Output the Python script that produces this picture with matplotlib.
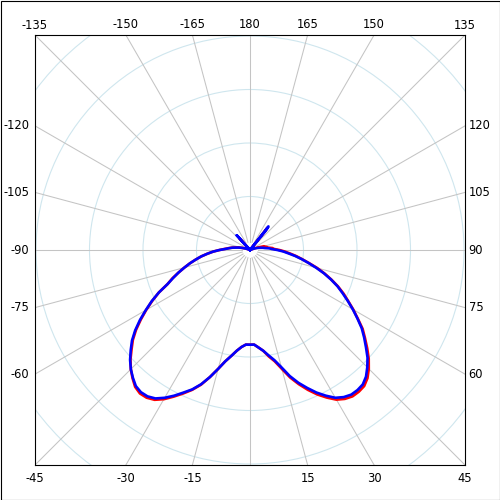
import numpy as np
import matplotlib
matplotlib.use("Agg")
import matplotlib.pyplot as plt
from matplotlib.patches import Rectangle, Circle

# ---- data (level in dB, center of plot = -40 dB) ----
angles_deg = [-180, -170, -160, -150, -145, -140, -138, -136, -130, -120, -115,
              -110, -107.5, -105, -102.5, -100, -97.5, -95, -92.5, -90, -87.5,
              -85, -82.5, -80, -77.5, -75, -72.5, -70, -67.5, -65, -62.5, -60,
              -57.5, -55, -52.5, -50, -47.5, -45, -42.5, -40, -37.5, -35, -32.5,
              -30, -27.5, -25, -22.5, -20, -17.5, -15, -12.5, -10, -7.5, -5,
              -2.5, 0, 2.5, 5, 7.5, 10, 12.5, 15, 17.5, 20, 22.5, 25, 27.5, 30,
              32.5, 35, 37.5, 40, 42.5, 45, 47.5, 50, 52.5, 55, 57.5, 60, 62.5,
              65, 67.5, 70, 72.5, 75, 77.5, 80, 82.5, 85, 87.5, 90, 92.5, 95,
              97.5, 100, 102.5, 105, 107.5, 110,
              115, 120, 130, 139, 141, 142, 144, 150, 160, 170, 180]

blue_db = [-40, -40, -40, -40, -40, -40, -36.3, -40, -40, -40, -40,
           -39.4, -39.0, -38.5, -37.9, -37.4, -36.7, -36.1, -35.4, -34.3, -33.1,
           -32.0, -30.8, -29.7, -28.5, -27.3, -26.0, -24.7, -23.3, -21.2, -19.3, -17.5,
           -15.6, -13.8, -12.2, -10.9, -9.6, -8.5, -7.6, -6.8, -6.5, -6.6, -7.1,
           -8.1, -9.3, -10.6, -11.8, -13.3, -15.1, -17.0, -18.7, -19.9, -21.0, -21.8,
           -22.3, -22.3, -22.3, -21.7, -21.0, -20.0, -18.9, -17.3, -15.3, -13.6, -12.1, -10.6, -9.3, -8.1,
           -7.4, -7.0, -7.0, -7.2, -7.9, -9.0, -10.2, -11.7, -13.1, -14.5, -16.2, -17.8, -19.4,
           -20.9, -22.3, -23.9, -25.5, -27.2, -28.8, -30.2, -31.5, -32.8, -33.8, -34.9, -35.9, -36.4,
           -37.2, -37.6, -38.1, -38.5, -38.9, -39.3,
           -40, -40, -40, -40, -35.0, -34.4, -40, -40, -40, -40, -40]

red_db = [-40, -40, -40, -40, -40, -40, -37.0, -40, -40, -40, -40,
          -39.3, -38.9, -38.4, -37.8, -37.3, -36.6, -36.0, -35.3, -34.3, -33.1,
          -32.0, -30.8, -29.7, -28.5, -27.3, -26.0, -24.6, -23.3, -21.2, -19.4, -17.6,
          -15.8, -14.0, -12.4, -11.1, -9.7, -8.5, -7.5, -6.6, -6.2, -6.3, -6.8,
          -7.8, -9.1, -10.4, -11.7, -13.2, -15.1, -17.0, -18.7, -19.9, -21.0, -21.8,
          -22.3, -22.3, -22.3, -21.7, -21.0, -19.8, -18.7, -17.0, -15.0, -13.3, -11.7, -10.2, -8.9, -7.7,
          -7.0, -6.6, -6.6, -6.8, -7.5, -8.6, -9.9, -11.4, -12.9, -14.3, -16.1, -17.7, -19.3,
          -20.7, -22.2, -23.8, -25.4, -27.0, -28.7, -30.1, -31.3, -32.5, -33.5, -34.5, -35.5, -35.8,
          -36.6, -36.8, -37.1, -37.3, -38.4, -39.0,
          -40, -40, -40, -40, -35.5, -34.8, -40, -40, -40, -40, -40]

db_min = -40
ring_levels = [-30, -20, -10, 0, 10, 20]
spoke_angles = list(range(-180, 180, 15))
label_angles = [-135, -150, -165, 180, 165, 150, 135,
                -120, -105, -90, -75, -60,
                120, 105, 90, 75, 60,
                -45, -30, -15, 15, 30, 45]

# ---- figure ----
fig = plt.figure(figsize=(5, 5), dpi=100)
fig.patches.append(Rectangle((0.5 / 500, 0.5 / 500), 499 / 500, 499 / 500,
                             transform=fig.transFigure, fill=False,
                             ec="black", lw=0.8))
ax = fig.add_axes([0.07, 0.07, 0.86, 0.86])
L = 215 / 5.35
ax.set_xlim(-L, L)
ax.set_ylim(-L, L)
ax.set_xticks([])
ax.set_yticks([])
for s in ax.spines.values():
    s.set_color("black")
    s.set_linewidth(0.8)


def to_xy(theta_deg, r):
    t = np.radians(np.asarray(theta_deg, dtype=float))
    r = np.asarray(r, dtype=float)
    return r * np.sin(t), -r * np.cos(t)


# rings
for lvl in ring_levels:
    ax.add_patch(Circle((0, 0), lvl - db_min, fill=False, ec="#cfe6ee",
                        lw=0.8, zorder=1))

# spokes
for a in spoke_angles:
    x, y = to_xy([a, a], [1.5, 70])
    ax.plot(x, y, color="#c4c4c4", lw=0.75, zorder=1.5)

# angle labels at frame edges
fs = 8.3
for a in label_angles:
    t = np.radians(a)
    sx, sy = np.sin(t), -np.cos(t)
    k = L / max(abs(sx), abs(sy))
    xe, ye = sx * k, sy * k
    txt = str(a)
    if abs(sy) >= abs(sx) - 1e-9:
        if ye > 0:
            ax.annotate(txt, (xe, ye), xytext=(0, 7.2), textcoords="offset points",
                        ha="center", va="center", fontsize=fs, annotation_clip=False)
        else:
            ax.annotate(txt, (xe, ye), xytext=(0, -9.4), textcoords="offset points",
                        ha="center", va="center", fontsize=fs, annotation_clip=False)
    elif xe < 0:
        ax.annotate(txt, (xe, ye), xytext=(-4.0, 0), textcoords="offset points",
                    ha="right", va="center", fontsize=fs, annotation_clip=False)
    else:
        ax.annotate(txt, (xe, ye), xytext=(2.6, 0), textcoords="offset points",
                    ha="left", va="center", fontsize=fs, annotation_clip=False)

# series
r_red = np.clip(np.asarray(red_db) - db_min, 0, None)
r_blue = np.clip(np.asarray(blue_db) - db_min, 0, None)
xr, yr = to_xy(angles_deg, r_red)
xb, yb = to_xy(angles_deg, r_blue)
ax.plot(xr, yr, color="red", lw=1.9, zorder=3, solid_joinstyle="round")
ax.plot(xb, yb, color="blue", lw=1.9, zorder=4, solid_joinstyle="round")

fig.savefig("out.png", dpi=100)
